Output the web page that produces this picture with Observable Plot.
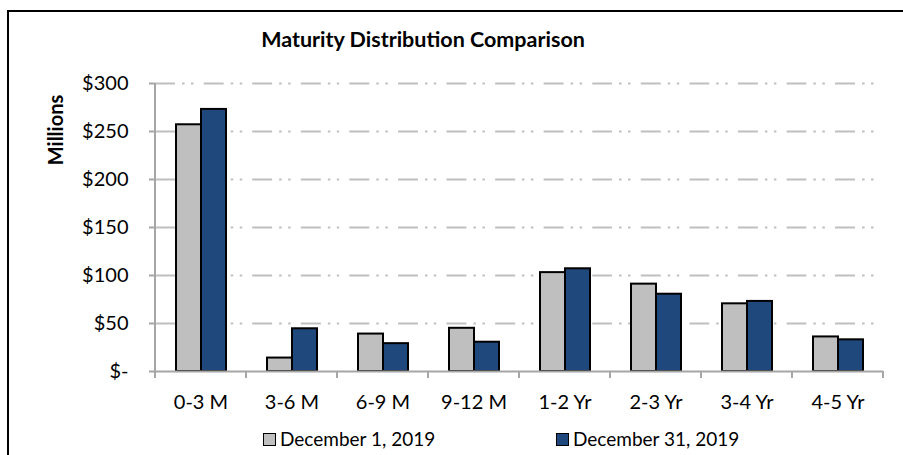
<!DOCTYPE html>
<html>
<head>
<meta charset="utf-8">
<script src="https://cdn.jsdelivr.net/npm/d3@7"></script>
<script src="https://cdn.jsdelivr.net/npm/@observablehq/plot@0.6"></script>
<style>
  html, body { margin: 0; padding: 0; background: #fff; }
  #wrap { position: relative; width: 903px; height: 455px; overflow: hidden; font-family: Lato, "Open Sans", sans-serif; color: #000; }
  #border { position: absolute; left: 7px; top: 10px; width: 2000px; height: 2000px; border-left: 2px solid #000; border-top: 2px solid #000; }
  #title { position: absolute; left: 423px; top: 29px; transform: translateX(-50%); font-size: 21.5px; line-height: 21px; font-weight: bold; white-space: nowrap; }
  #ylabel { position: absolute; left: 55px; top: 130px; transform: translate(-50%, -50%) rotate(-90deg); font-size: 20px; line-height: 20px; font-weight: bold; white-space: nowrap; }
  #chart { position: absolute; left: 0; top: 0; }
  .legend-item { position: absolute; top: 429px; display: flex; align-items: center; font-size: 19px; line-height: 20px; white-space: nowrap; }
  .legend-item .sw { width: 11px; height: 11px; border: 1.5px solid #000; margin-right: 4px; }
</style>
</head>
<body>
<div id="wrap">
  <div id="border"></div>
  <div id="chart"></div>
  <div id="title">Maturity Distribution Comparison</div>
  <div id="ylabel">Millions</div>
  <div id="legend"></div>
</div>
<script>
const categories = ["0-3 M", "3-6 M", "6-9 M", "9-12 M", "1-2 Yr", "2-3 Yr", "3-4 Yr", "4-5 Yr"];
const seriesNames = ["December 1, 2019", "December 31, 2019"];
const dec1 = [257, 14, 39, 45, 103, 91, 70.5, 36];
const dec31 = [273, 44.5, 29, 30.5, 107, 80.5, 73, 33];
const yTicks = [0, 50, 100, 150, 200, 250, 300];
const yTickLabels = ["$-", "$50", "$100", "$150", "$200", "$250", "$300"];
const seriesColors = ["#bfbfbf", "#1f497d"];

const rows = categories.flatMap((c, i) => [
  {cat: c, series: seriesNames[0], value: dec1[i]},
  {cat: c, series: seriesNames[1], value: dec31[i]}
]);

const W = 903, H = 455, ML = 154, MR = 19, MT = 83, MB = 84;
const facetWidth = (W - ML - MR) / categories.length;
const axisGray = "#a6a6a6";

// dash-dot-dot gridlines, one mark per facet so the pattern runs on continuously
const gridMarks = categories.map((c, i) =>
  Plot.ruleY(yTicks.slice(1).map(v => ({cat: c, v})), {
    fx: "cat", y: "v", stroke: "#bfbfbf", strokeWidth: 2,
    strokeDasharray: "20 7 2.5 6.5 2.5 10.2", strokeDashoffset: i * facetWidth
  })
);

const plot = Plot.plot({
  width: W,
  height: H,
  marginLeft: ML,
  marginRight: MR,
  marginTop: MT,
  marginBottom: MB,
  style: {fontFamily: "Lato, 'Open Sans', sans-serif", fontSize: "20px", color: "#000", background: "transparent", overflow: "visible"},
  fx: {domain: categories, padding: 0, label: null},
  x: {domain: seriesNames, paddingInner: 0, paddingOuter: 0.755, axis: null},
  y: {domain: [0, 300], label: null},
  color: {domain: seriesNames, range: seriesColors},
  marks: [
    ...gridMarks,
    Plot.barY(rows, {fx: "cat", x: "series", y: "value", fill: "series", stroke: "#000", strokeWidth: 2}),
    Plot.ruleY([0], {stroke: axisGray, strokeWidth: 2}),
    Plot.axisY({ticks: yTicks, tickFormat: d => yTickLabels[yTicks.indexOf(d)], tickSize: 6, tickPadding: 21, stroke: axisGray, strokeWidth: 2, fontSize: 20, label: null}),
    Plot.axisFx({anchor: "bottom", tickSize: 0, tickPadding: 23, label: null, fontSize: 20})
  ]
});
document.getElementById("chart").appendChild(plot);

// y axis line and category boundary ticks, positioned from Plot's scales
const fx = plot.scale("fx");
const y = plot.scale("y");
const svg = d3.select(plot);
const y0 = y.apply(0), yTop = y.apply(300);
const boundaries = categories.map(c => fx.apply(c)).concat([fx.apply(categories[categories.length - 1]) + fx.bandwidth]);
const g = svg.append("g").attr("stroke", axisGray).attr("stroke-width", 2);
g.append("line").attr("x1", boundaries[0]).attr("x2", boundaries[0]).attr("y1", yTop).attr("y2", y0 + 7);
g.selectAll("line.b").data(boundaries.slice(1)).join("line")
  .attr("class", "b").attr("x1", d => d).attr("x2", d => d).attr("y1", y0).attr("y2", y0 + 7);

// legend
const legendLefts = [263, 556];
const legend = document.getElementById("legend");
seriesNames.forEach((s, i) => {
  const item = document.createElement("div");
  item.className = "legend-item";
  item.style.left = legendLefts[i] + "px";
  item.innerHTML = `<span class="sw" style="background:${seriesColors[i]}"></span><span>${s}</span>`;
  legend.appendChild(item);
});
</script>
</body>
</html>
